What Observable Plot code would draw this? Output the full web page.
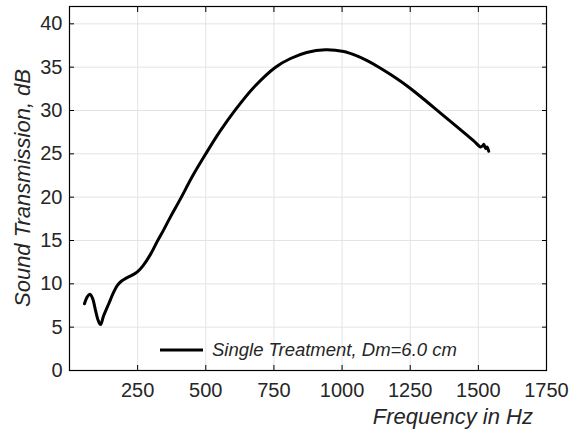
<!DOCTYPE html>
<html>
<head>
<meta charset="utf-8">
<script src="https://cdn.jsdelivr.net/npm/d3@7"></script>
<script src="https://cdn.jsdelivr.net/npm/@observablehq/plot@0.6"></script>
<style>
  html, body { margin: 0; padding: 0; background: #fff; }
  #chart { position: relative; width: 575px; height: 430px; overflow: hidden; }
</style>
</head>
<body>
<div id="chart"></div>
<script>
// ---- data ----
const frequency = [55, 65, 75, 85, 95, 105, 114, 125, 144, 160, 175, 190, 205, 230, 250, 270, 297, 322, 345, 370, 407, 450, 500, 550, 609, 680, 756, 811, 870, 939, 1006, 1050, 1092, 1135, 1178, 1240, 1300, 1361, 1434, 1483, 1508, 1515, 1520, 1527, 1532, 1538];
const transmission = [7.7, 8.5, 8.8, 8.3, 7.0, 5.8, 5.3, 6.3, 7.7, 8.9, 9.8, 10.3, 10.6, 11.0, 11.4, 12.1, 13.4, 14.9, 16.2, 17.7, 19.8, 22.35, 25.0, 27.5, 30.1, 32.8, 35.0, 36.0, 36.7, 37.0, 36.8, 36.35, 35.75, 35.0, 34.15, 32.8, 31.3, 29.7, 27.8, 26.5, 25.8, 25.9, 26.1, 25.6, 25.8, 25.3];
const xTicks = [250, 500, 750, 1000, 1250, 1500, 1750];
const yTicks = [0, 5, 10, 15, 20, 25, 30, 35, 40];
const seriesName = "Single Treatment, Dm=6.0 cm";
const xLabel = "Frequency in Hz";
const yLabel = "Sound Transmission, dB";

const rows = frequency.map((f, i) => ({f, v: transmission[i]}));

const W = 575, H = 430;
const mL = 69, mR = 29, mT = 6, mB = 60;
const font = "'Liberation Sans', Arial, Helvetica, sans-serif";
const textColor = "#262626";

const plot = Plot.plot({
  width: W,
  height: H,
  marginLeft: mL,
  marginRight: mR,
  marginTop: mT,
  marginBottom: mB,
  style: {fontFamily: font, fontSize: "20px", color: textColor, background: "#fff", overflow: "visible"},
  x: {domain: [0, 1750]},
  y: {domain: [0, 42]},
  marks: [
    Plot.gridX(xTicks, {stroke: "#e3e3e3", strokeOpacity: 1}),
    Plot.gridY(yTicks, {stroke: "#e3e3e3", strokeOpacity: 1}),
    Plot.axisX(xTicks, {anchor: "bottom", tickSize: 0, tickPadding: 12, tickFormat: d3.format("d"), label: null, fontSize: 20, fill: textColor}),
    Plot.axisX(xTicks, {anchor: "bottom", tickSize: -5, tickFormat: () => "", label: null, stroke: "#000"}),
    Plot.axisX(xTicks, {anchor: "top", tickSize: -5, tickFormat: () => "", label: null, stroke: "#000"}),
    Plot.axisY(yTicks, {anchor: "left", tickSize: 0, tickPadding: 7, label: null, fontSize: 20, fill: textColor}),
    Plot.axisY(yTicks, {anchor: "left", tickSize: -5, tickFormat: () => "", label: null, stroke: "#000"}),
    Plot.axisY(yTicks, {anchor: "right", tickSize: -5, tickFormat: () => "", label: null, stroke: "#000"}),
    Plot.line(rows, {x: "f", y: "v", stroke: "#000", strokeWidth: 3, curve: "catmull-rom", strokeLinejoin: "round"}),
    Plot.frame({stroke: "#000", strokeWidth: 1.2})
  ]
});

document.getElementById("chart").appendChild(plot);

// axis titles and legend added as real text in the same SVG
const svg = d3.select(plot);
svg.append("text")
  .attr("x", 533).attr("y", 424)
  .attr("text-anchor", "end")
  .attr("font-family", font).attr("font-size", 22).attr("font-style", "italic")
  .attr("fill", textColor)
  .text(xLabel);

svg.append("text")
  .attr("transform", `translate(30, ${(mT + (H - mB)) / 2}) rotate(-90)`)
  .attr("text-anchor", "middle")
  .attr("font-family", font).attr("font-size", 22).attr("font-style", "italic")
  .attr("fill", textColor)
  .text(yLabel);

const legend = svg.append("g");
legend.append("line")
  .attr("x1", 160).attr("x2", 203).attr("y1", 350).attr("y2", 350)
  .attr("stroke", "#000").attr("stroke-width", 3);
legend.append("text")
  .attr("x", 212).attr("y", 356)
  .attr("text-anchor", "start")
  .attr("font-family", font).attr("font-size", 18.5).attr("font-style", "italic")
  .attr("fill", textColor)
  .text(seriesName);
</script>
</body>
</html>
